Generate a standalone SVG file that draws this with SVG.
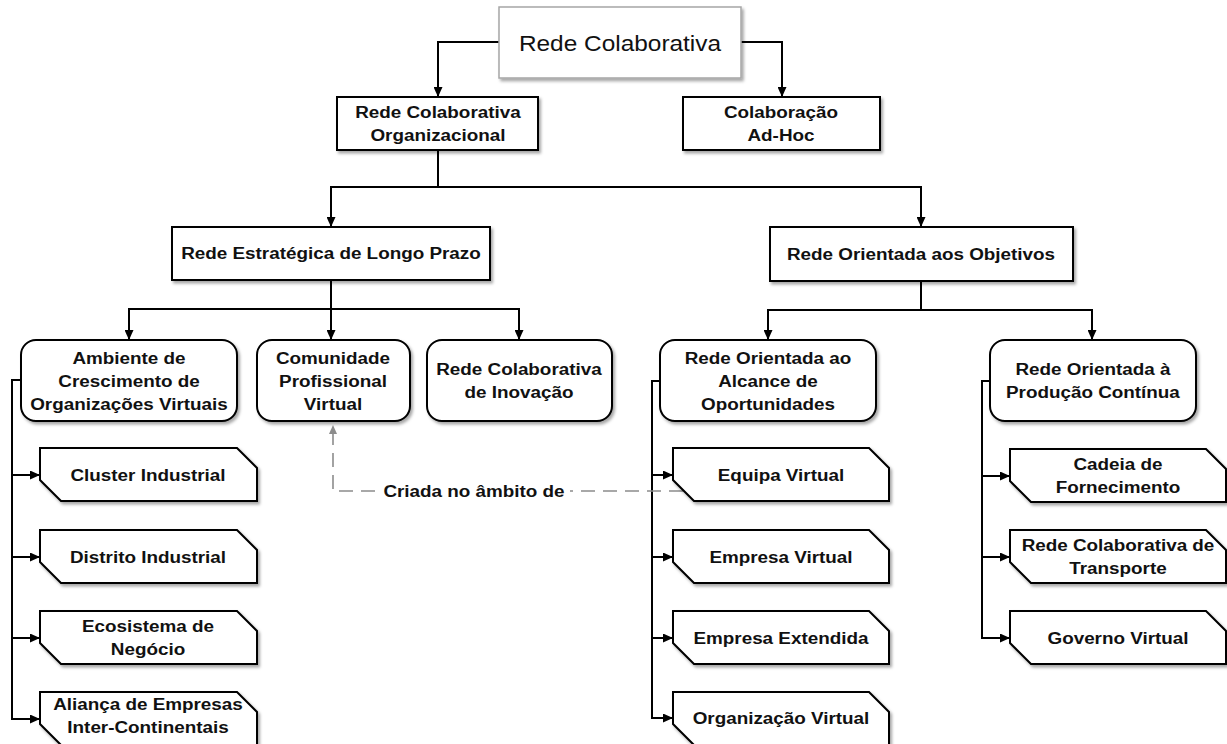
<svg xmlns="http://www.w3.org/2000/svg" width="1227" height="744" viewBox="0 0 1227 744">
<defs>
<style>
.box{fill:#fff;stroke:#000;stroke-width:2;filter:url(#sh)}
.top{fill:#fff;stroke:#a6a6a6;stroke-width:1.5;filter:url(#sh)}
.ln{fill:none;stroke:#000;stroke-width:2;marker-end:url(#ah)}
.pl{fill:none;stroke:#000;stroke-width:2}
.dash{fill:none;stroke:#8c8c8c;stroke-width:1.6;stroke-dasharray:14 8;marker-end:url(#ag)}
text{font-family:"Liberation Sans",Arial,sans-serif;font-size:17px;font-weight:bold;fill:#111;text-anchor:middle;dominant-baseline:central;transform-box:fill-box;transform-origin:center;transform:scaleX(1.11)}
.title{font-size:22px;font-weight:normal}
</style>
<filter id="sh" x="-10%" y="-10%" width="130%" height="140%">
<feDropShadow dx="2" dy="2.5" stdDeviation="1.5" flood-color="#000" flood-opacity="0.35"/>
</filter>
<marker id="ah" markerWidth="10" markerHeight="9" refX="10" refY="4.5" orient="auto" markerUnits="userSpaceOnUse">
<path d="M0,0 L10,4.5 L0,9 z" fill="#000"/>
</marker>
<marker id="ag" markerWidth="9" markerHeight="8" refX="9" refY="4" orient="auto" markerUnits="userSpaceOnUse">
<path d="M0,0 L9,4 L0,8 z" fill="#8c8c8c"/>
</marker>
</defs>
<rect width="1227" height="744" fill="#fff"/>

<g id="connectors">
<path class="ln" d="M499,42 H438 V97"/>
<path class="ln" d="M741,42 H782 V97"/>
<path class="ln" d="M438,150 V187 H331 V227"/>
<path class="ln" d="M438,187 H921 V227"/>
<path class="ln" d="M331,280 V309 H129 V340"/>
<path class="ln" d="M331,309 V340"/>
<path class="ln" d="M331,309 H519 V340"/>
<path class="ln" d="M921,281 V310 H768 V340"/>
<path class="ln" d="M921,310 H1092 V340"/>
<path class="ln" d="M21,380 H12 V719 H40"/>
<path class="ln" d="M12,475 H40"/>
<path class="ln" d="M12,557 H40"/>
<path class="ln" d="M12,638 H40"/>
<path class="ln" d="M660,381 H652 V718 H673"/>
<path class="ln" d="M652,475 H673"/>
<path class="ln" d="M652,557 H673"/>
<path class="ln" d="M652,638 H673"/>
<path class="ln" d="M990,381 H982 V638 H1010"/>
<path class="ln" d="M982,476 H1010"/>
<path class="ln" d="M982,557 H1010"/>
<path class="dash" d="M683,491 H333 V425"/>
<rect x="378" y="480" width="192" height="22" fill="#fff"/>
<text x="474" y="491">Criada no âmbito de</text>
</g>

<g id="n-rede-colaborativa">
<rect class="top" x="499" y="7" width="242" height="71"/>
<text class="title" x="620" y="43">Rede Colaborativa</text>
</g>
<g id="n-organizacional">
<rect class="box" x="337" y="97" width="201" height="53"/>
<text x="438" y="112">Rede Colaborativa</text>
<text x="438" y="135">Organizacional</text>
</g>
<g id="n-adhoc">
<rect class="box" x="683" y="97" width="197" height="53"/>
<text x="781" y="112">Colaboração</text>
<text x="781" y="135">Ad-Hoc</text>
</g>
<g id="n-estrategica">
<rect class="box" x="172" y="227" width="318" height="53"/>
<text x="331" y="253">Rede Estratégica de Longo Prazo</text>
</g>
<g id="n-objetivos">
<rect class="box" x="770" y="227" width="303" height="54"/>
<text x="921" y="254">Rede Orientada aos Objetivos</text>
</g>
<g id="n-ambiente">
<rect class="box" x="21" y="340" width="216" height="81" rx="15"/>
<text x="129" y="358">Ambiente de</text>
<text x="129" y="381">Crescimento de</text>
<text x="129" y="404">Organizações Virtuais</text>
</g>
<g id="n-comunidade">
<rect class="box" x="257" y="340" width="153" height="81" rx="15"/>
<text x="333" y="358">Comunidade</text>
<text x="333" y="381">Profissional</text>
<text x="333" y="404">Virtual</text>
</g>
<g id="n-inovacao">
<rect class="box" x="427" y="340" width="185" height="81" rx="15"/>
<text x="519" y="369">Rede Colaborativa</text>
<text x="519" y="392">de Inovação</text>
</g>
<g id="n-alcance">
<rect class="box" x="660" y="340" width="216" height="81" rx="15"/>
<text x="768" y="358">Rede Orientada ao</text>
<text x="768" y="381">Alcance de</text>
<text x="768" y="404">Oportunidades</text>
</g>
<g id="n-producao">
<rect class="box" x="990" y="340" width="206" height="81" rx="15"/>
<text x="1093" y="369">Rede Orientada à</text>
<text x="1093" y="392">Produção Contínua</text>
</g>

<g id="n-cluster">
<path class="box" d="M40,448 H237 L257,468 V501 H61 L40,480 Z"/>
<text x="148" y="475">Cluster Industrial</text>
</g>
<g id="n-distrito">
<path class="box" d="M40,530 H237 L257,550 V583 H61 L40,562 Z"/>
<text x="148" y="557">Distrito Industrial</text>
</g>
<g id="n-ecosistema">
<path class="box" d="M40,611 H237 L257,631 V664 H61 L40,643 Z"/>
<text x="148" y="626">Ecosistema de</text>
<text x="148" y="649">Negócio</text>
</g>
<g id="n-alianca">
<path class="box" d="M40,692 H237 L257,712 V745 H61 L40,724 Z"/>
<text x="148" y="704">Aliança de Empresas</text>
<text x="148" y="727">Inter-Continentais</text>
</g>

<g id="n-equipa">
<path class="box" d="M673,448 H869 L889,468 V501 H694 L673,480 Z"/>
<text x="781" y="475">Equipa Virtual</text>
</g>
<g id="n-empresa-virtual">
<path class="box" d="M673,530 H869 L889,550 V583 H694 L673,562 Z"/>
<text x="781" y="557">Empresa Virtual</text>
</g>
<g id="n-empresa-extendida">
<path class="box" d="M673,611 H869 L889,631 V664 H694 L673,643 Z"/>
<text x="781" y="638">Empresa Extendida</text>
</g>
<g id="n-organizacao-virtual">
<path class="box" d="M673,692 H869 L889,712 V745 H694 L673,724 Z"/>
<text x="781" y="718">Organização Virtual</text>
</g>

<g id="n-cadeia">
<path class="box" d="M1010,449 H1206 L1226,469 V502 H1031 L1010,481 Z"/>
<text x="1118" y="464">Cadeia de</text>
<text x="1118" y="487">Fornecimento</text>
</g>
<g id="n-transporte">
<path class="box" d="M1010,530 H1206 L1226,550 V583 H1031 L1010,562 Z"/>
<text x="1118" y="545">Rede Colaborativa de</text>
<text x="1118" y="568">Transporte</text>
</g>
<g id="n-governo">
<path class="box" d="M1010,611 H1206 L1226,631 V664 H1031 L1010,643 Z"/>
<text x="1118" y="638">Governo Virtual</text>
</g>
</svg>
